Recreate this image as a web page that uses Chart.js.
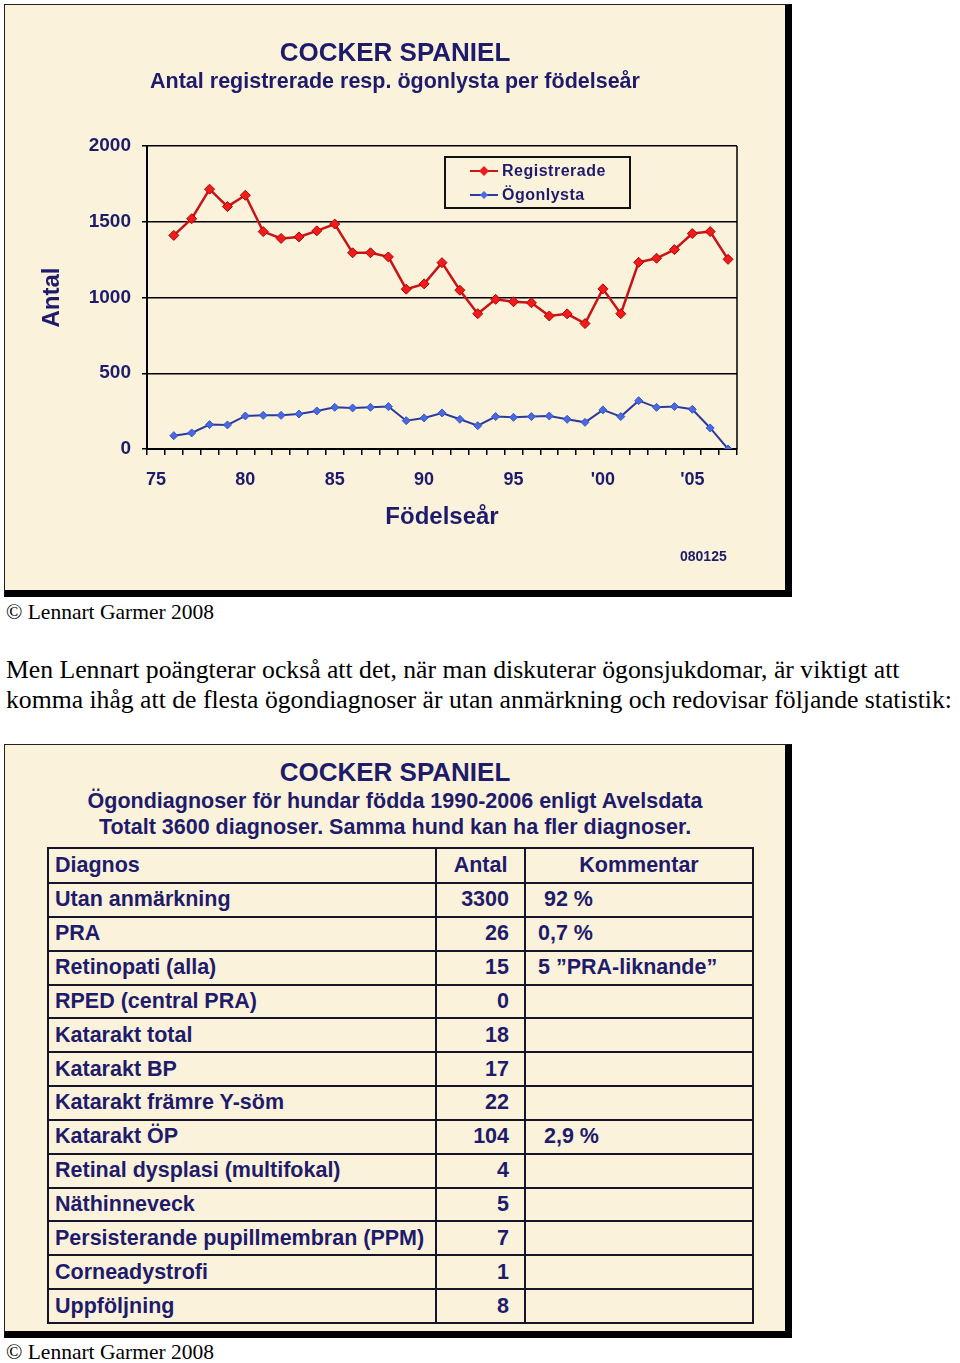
<!DOCTYPE html>
<html>
<head>
<meta charset="utf-8">
<script src="https://cdn.jsdelivr.net/npm/chart.js@4.4.1/dist/chart.umd.min.js"></script>
<style>
  body { margin: 0; background: #fff; width: 960px; height: 1363px; position: relative; overflow: hidden; }
  .frame { position: absolute; left: 4px; background: #fbf2dc;
           border-top: 1px solid #222; border-left: 1px solid #222;
           border-right: 7px solid #000; border-bottom: 7px solid #000; }
  #f1 { top: 4px; width: 780px; height: 585px; }
  #f2 { top: 744px; width: 780px; height: 586px; }
  .t { position: absolute; color: #1e1b6b; white-space: nowrap; font-family: "Liberation Sans", Arial, sans-serif; }
  .title { left: 0; width: 780px; text-align: center; font-weight: bold; font-size: 26px; line-height: 26px; }
  .sub { left: 0; width: 780px; text-align: center; font-weight: bold; font-size: 21.5px; line-height: 24px; }
  .serif { position: absolute; left: 6px; font-family: "Liberation Serif", "Times New Roman", serif; color: #000; white-space: nowrap; }
  #tbl { position: absolute; left: 42px; top: 102px; border-collapse: collapse; table-layout: fixed; width: 705px;
         font-family: "Liberation Sans", Arial, sans-serif; }
  #tbl td { border: 2px solid #15152a; color: #1e1b6b; font-weight: bold; font-size: 21.5px; padding: 0;
            vertical-align: middle; white-space: nowrap; overflow: hidden; }
  #tbl td.c0 { padding-left: 6px; }
  #tbl td.c1 { text-align: right; padding-right: 15px; }
  #tbl td.c2 { padding-left: 12px; }
  #tbl tr.head td.c1, #tbl tr.head td.c2 { text-align: center; padding: 0; }
</style>
</head>
<body>
<div class="frame" id="f1">
  <canvas id="chart" width="780" height="585"></canvas>
  <div class="t title" style="top:34px">COCKER SPANIEL</div>
  <div class="t sub" style="top:64px;">Antal registrerade resp. ögonlysta per födelseår</div>
  <div class="t" style="left:675px;top:544px;font-size:14px;line-height:14px;font-weight:bold;">080125</div>
</div>
<div class="serif" style="top:600px;font-size:21.5px;line-height:24px;">© Lennart Garmer 2008</div>
<div class="serif" style="top:655px;font-size:25.7px;line-height:30px;">Men Lennart poängterar också att det, när man diskuterar ögonsjukdomar, är viktigt att<br>komma ihåg att de flesta ögondiagnoser är utan anmärkning och redovisar följande statistik:</div>

<div class="frame" id="f2">
  <div class="t title" style="top:14px">COCKER SPANIEL</div>
  <div class="t sub" style="top:44px;">Ögondiagnoser för hundar födda 1990-2006 enligt Avelsdata</div>
  <div class="t sub" style="top:70px;">Totalt 3600 diagnoser. Samma hund kan ha fler diagnoser.</div>
  <table id="tbl">
    <colgroup><col style="width:388px"><col style="width:89px"><col style="width:228px"></colgroup>
    <tbody id="tbody"></tbody>
  </table>
</div>
<div class="serif" style="top:1340px;font-size:21.5px;line-height:24px;">© Lennart Garmer 2008</div>

<script>
// birth years on the x axis
const years = [1975, 1976, 1977, 1978, 1979, 1980, 1981, 1982, 1983, 1984, 1985, 1986, 1987,
  1988, 1989, 1990, 1991, 1992, 1993, 1994, 1995, 1996, 1997, 1998, 1999, 2000, 2001,
  2002, 2003, 2004, 2005, 2006, 2007];
const registrerade = [null, 1410, 1520, 1715, 1600, 1675, 1435, 1390, 1400, 1440, 1485, 1295, 1295,
  1268, 1055, 1090, 1230, 1048, 893, 988, 972, 965, 878, 892, 828, 1057, 893,
  1232, 1259, 1316, 1422, 1435, 1252];
const ogonlysta = [null, 88, 106, 161, 159, 218, 222, 222, 231, 251, 275, 271, 275,
  280, 187, 205, 238, 196, 154, 214, 209, 214, 218, 196, 176, 258, 214,
  319, 275, 280, 262, 139, 0];
const yTicks = [0, 500, 1000, 1500, 2000];

// table data
const diagnoser = ['Utan anmärkning', 'PRA', 'Retinopati (alla)', 'RPED (central PRA)', 'Katarakt total',
  'Katarakt BP', 'Katarakt främre Y-söm', 'Katarakt ÖP', 'Retinal dysplasi (multifokal)', 'Näthinneveck',
  'Persisterande pupillmembran (PPM)', 'Corneadystrofi', 'Uppföljning'];
const antal = [3300, 26, 15, 0, 18, 17, 22, 104, 4, 5, 7, 1, 8];
const kommentar = ['\u00a092 %', '0,7 %', '5 ”PRA-liknande”', '', '', '', '', '\u00a02,9 %', '', '', '', '', ''];

const navy = '#1e1b6b';

// build the table
const tbody = document.getElementById('tbody');
function addRow(cells, cls, h) {
  const tr = document.createElement('tr');
  if (cls) tr.className = cls;
  tr.style.height = h + 'px';
  cells.forEach((txt, i) => {
    const td = document.createElement('td');
    td.className = 'c' + i;
    td.textContent = txt;
    tr.appendChild(td);
  });
  tbody.appendChild(tr);
}
addRow(['Diagnos', 'Antal', 'Kommentar'], 'head', 35);
diagnoser.forEach((d, i) => addRow([d, String(antal[i]), kommentar[i]], '', 33.85));

// legend box in the upper right of the plot
const legendBox = {
  id: 'legendBox',
  afterDraw(chart) {
    const {ctx, chartArea: a} = chart;
    const x = a.left + 298, y = a.top + 11, w = 185, h = 51;
    ctx.save();
    ctx.strokeStyle = '#111';
    ctx.lineWidth = 2;
    ctx.strokeRect(x, y, w, h);
    chart.data.datasets.forEach((ds, i) => {
      const cy = y + 14 + i * 24;
      ctx.strokeStyle = ds.borderColor;
      ctx.lineWidth = 2;
      ctx.beginPath();
      ctx.moveTo(x + 25, cy);
      ctx.lineTo(x + 53, cy);
      ctx.stroke();
      const r = ds.pointRadius;
      ctx.fillStyle = ds.pointBackgroundColor;
      ctx.beginPath();
      ctx.moveTo(x + 39, cy - r);
      ctx.lineTo(x + 39 + r, cy);
      ctx.lineTo(x + 39, cy + r);
      ctx.lineTo(x + 39 - r, cy);
      ctx.closePath();
      ctx.fill();
      ctx.fillStyle = navy;
      ctx.font = 'bold 16px "Liberation Sans", Arial, sans-serif';
      ctx.textBaseline = 'middle';
      ctx.letterSpacing = '0.5px';
      ctx.fillText(ds.label, x + 57, cy + 1);
    });
    ctx.restore();
  }
};

// right edge of the plot frame
const plotFrame = {
  id: 'plotFrame',
  afterDraw(chart) {
    const {ctx, chartArea: a} = chart;
    ctx.save();
    ctx.strokeStyle = '#000';
    ctx.lineWidth = 1.5;
    ctx.beginPath();
    ctx.moveTo(a.right, a.top);
    ctx.lineTo(a.right, a.bottom);
    ctx.stroke();
    ctx.restore();
  }
};

Chart.defaults.font.family = '"Liberation Sans", Arial, sans-serif';

new Chart(document.getElementById('chart'), {
  type: 'line',
  data: {
    labels: years,
    datasets: [{
      label: 'Registrerade',
      data: registrerade,
      borderColor: '#c81414',
      pointBackgroundColor: '#f01c1c',
      pointBorderColor: '#b00000',
      pointBorderWidth: 1,
      pointStyle: 'rectRot',
      pointRadius: 5,
      borderWidth: 2.5,
      tension: 0
    }, {
      label: 'Ögonlysta',
      data: ogonlysta,
      borderColor: '#2c3a9c',
      pointBackgroundColor: '#4a68e0',
      pointBorderColor: '#3a55c8',
      pointBorderWidth: 1,
      pointStyle: 'rectRot',
      pointRadius: 4,
      borderWidth: 2,
      tension: 0
    }]
  },
  options: {
    responsive: false,
    animation: false,
    layout: { padding: { top: 141, right: 48, bottom: 0, left: 0 } },
    plugins: { legend: { display: false }, tooltip: { enabled: false }, title: { display: false } },
    scales: {
      x: {
        type: 'category',
        offset: true,
        afterFit(s) { s.height = 141; },
        grid: { offset: true, drawOnChartArea: false, color: '#000', lineWidth: 1.5, tickLength: 6 },
        border: { color: '#000', width: 2 },
        ticks: {
          autoSkip: false, maxRotation: 0, padding: 14, color: navy,
          font: { size: 18, weight: 'bold' },
          callback(v, i) {
            const yr = years[i];
            if (yr % 5 !== 0) return '';
            return yr < 2000 ? String(yr - 1900) : "'" + String(yr - 2000).padStart(2, '0');
          }
        },
        title: { display: true, text: 'Födelseår', color: navy, font: { size: 24, weight: 'bold' }, padding: { top: 0, bottom: 58 } }
      },
      y: {
        min: 0, max: 2000,
        afterFit(s) { s.width = 142; },
        afterBuildTicks(s) { s.ticks = yTicks.map(v => ({ value: v })); },
        grid: { color: '#000', lineWidth: 1.5, tickLength: 5 },
        border: { color: '#000', width: 2 },
        ticks: { padding: 11, color: navy, font: { size: 19, weight: 'bold' }, callback: v => String(v) },
        title: { display: true, text: 'Antal', color: navy, font: { size: 24, weight: 'bold' }, padding: { top: 33, bottom: 0 } }
      }
    }
  },
  plugins: [legendBox, plotFrame]
});
</script>
</body>
</html>
